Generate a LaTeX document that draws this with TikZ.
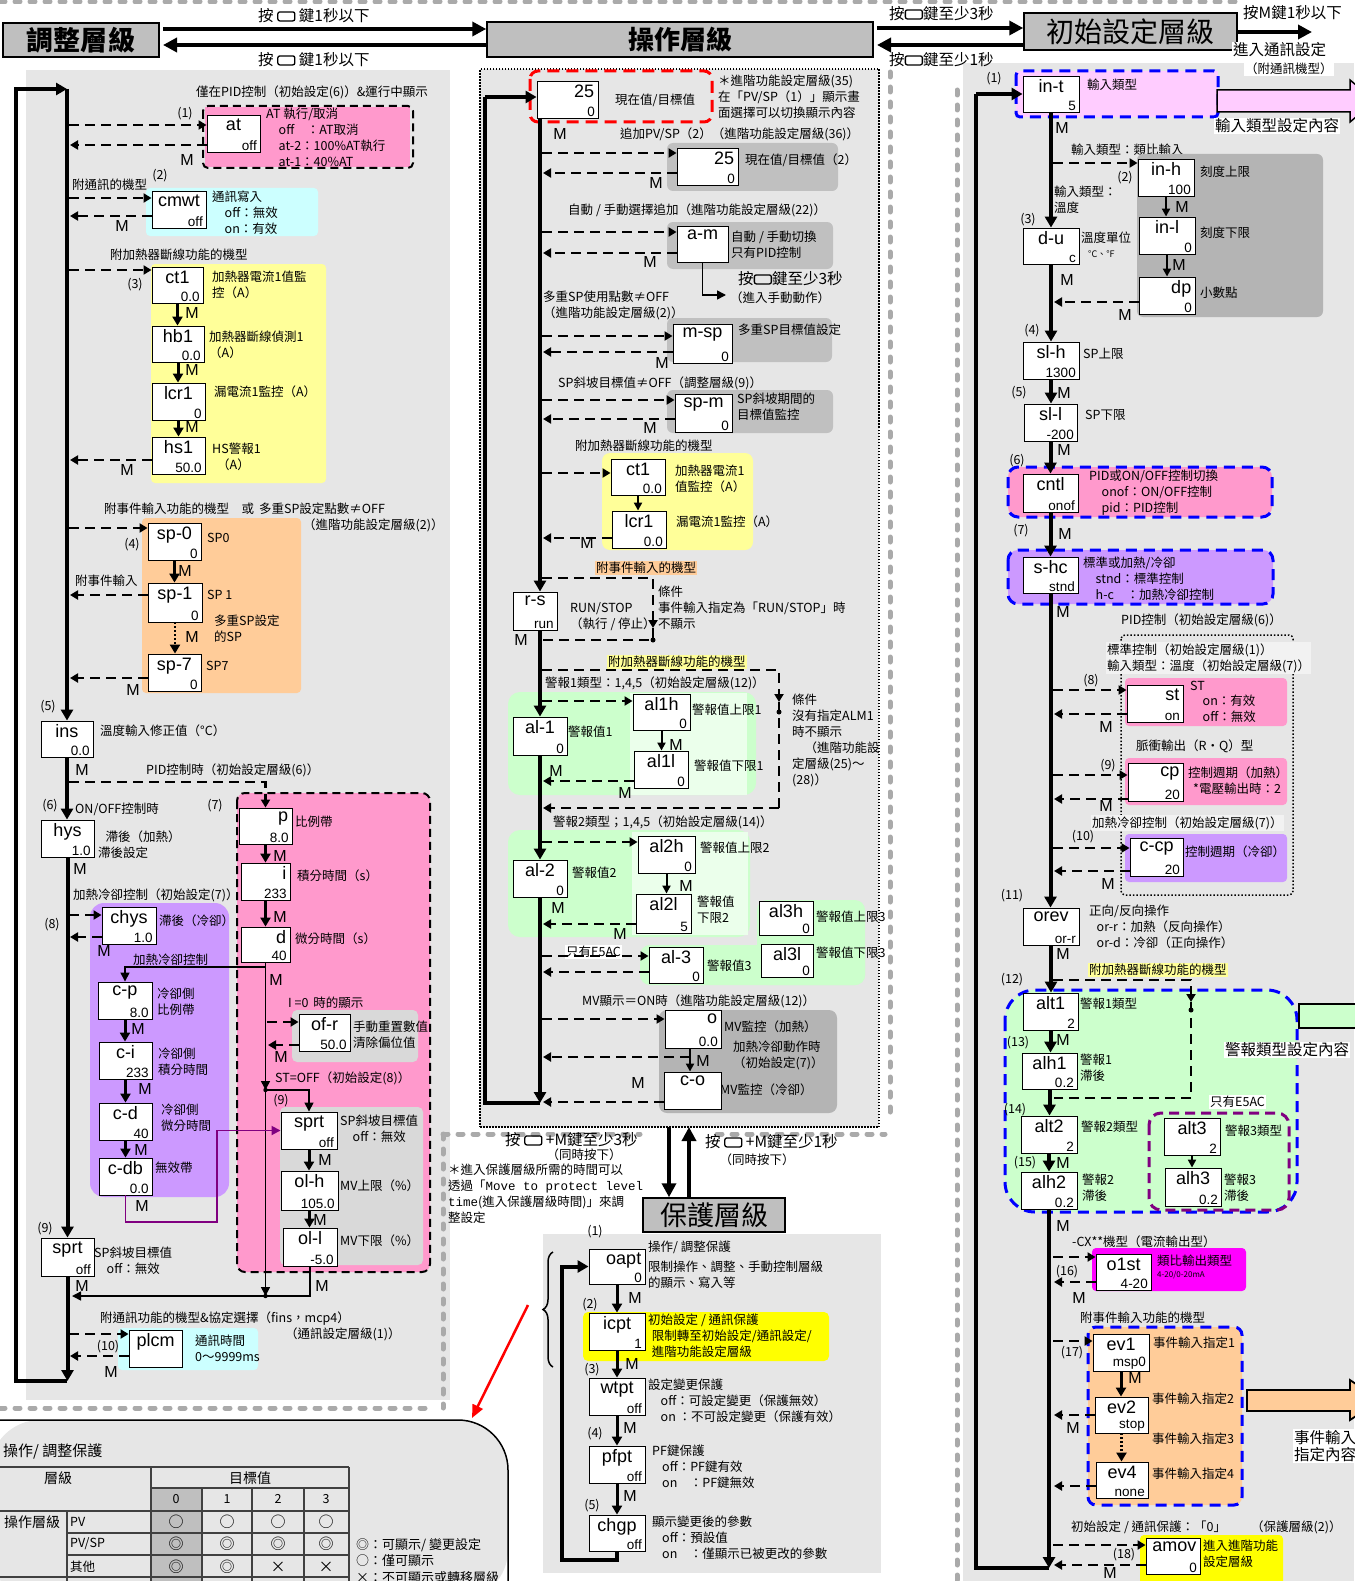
\documentclass[tikz,border=0pt]{standalone}
\usepackage{fontspec}
\setmainfont{Noto Sans CJK TC}
\newfontfamily\arial{Liberation Sans}
\newfontfamily\mono{Liberation Mono}
\usetikzlibrary{arrows.meta,fit,decorations.pathreplacing}

\definecolor{panel}{HTML}{E6E6E6}
\definecolor{hdgray}{HTML}{BFBFBF}
\definecolor{grpgray}{HTML}{C0C0C0}
\definecolor{grpdark}{HTML}{B4B4B4}
\definecolor{ltgray}{HTML}{D9D9D9}
\definecolor{pinkA}{HTML}{FF99CC}
\definecolor{pinkB}{HTML}{FFCCFF}
\definecolor{cyanA}{HTML}{CCFFFF}
\definecolor{yelA}{HTML}{FFFF99}
\definecolor{yelB}{HTML}{FFFF00}
\definecolor{orgA}{HTML}{FFCC99}
\definecolor{purA}{HTML}{CC99FF}
\definecolor{grnA}{HTML}{CCFFCC}
\definecolor{grnB}{HTML}{EBFFEB}
\definecolor{magA}{HTML}{FF00FF}
\definecolor{violet}{HTML}{800080}
\definecolor{sepgray}{HTML}{AAAAAA}

% key symbol
\newcommand\keyic{\tikz[baseline=-1pt]\draw[line width=1.3pt,rounded corners=2pt] (0pt,0pt) rectangle (17pt,9pt);}
% parameter box: name, x1, y1, x2, y2, label, value
\newcommand\pbx[7]{%
  \node [pbox, fit={(#2,#3) (#4,#5)}] (#1) {};
  \node [tagl, anchor=north] (#1n) at ([yshift=-4pt]#1.north) {#6};
  \node [val, anchor=south east] (#1v) at ([xshift=-2pt]#1.south east) {#7};}
\newcommand\pbxr[7]{%
  \node [pbox, fit={(#2,#3) (#4,#5)}] (#1) {};
  \node [tagl, anchor=north east] (#1n) at ([xshift=-4pt,yshift=-4pt]#1.north east) {#6};
  \node [val, anchor=south east] (#1v) at ([xshift=-2pt]#1.south east) {#7};}
\newcommand\tx[4][]{\node [txt,#1] (#2) at (#3) {#4};}
\newcommand\mm[2]{\node [mk] (#1) at (#2) {M};}
\newcommand\nb[3]{\node [num] (#1) at (#2) {#3};}
\newcommand\din[3]{\coordinate (#1) at (#2); \draw [darr] (#1) -- (#1 -| #3.west);}
\newcommand\dout[3]{\coordinate (#1) at (#2); \draw [darr] (#1 -| #3.west) -- (#1);}

\begin{document}
\begin{tikzpicture}[x=1pt,y=-1pt,
  pbox/.style={draw, fill=white, line width=0.9pt, inner sep=0pt},
  tagl/.style={font=\arial\fontsize{18}{18}\selectfont, inner sep=0pt},
  val/.style={font=\arial\fontsize{13.5}{13.5}\selectfont, inner sep=1.5pt},
  txt/.style={font=\fontsize{12.5}{16}\selectfont, inner sep=0pt, anchor=west, align=left},
  big/.style={font=\fontsize{15.5}{17}\selectfont},
  mk/.style={font=\arial\fontsize{16}{16}\selectfont, inner sep=0pt},
  num/.style={font=\fontsize{12.5}{12.5}\selectfont, inner sep=0pt},
  head/.style={draw, line width=1.5pt, fill=hdgray, inner sep=0pt},
  mainln/.style={line width=4pt},
  mainarr/.style={line width=4pt, -{Triangle[length=11pt,width=12pt]}},
  harr/.style={line width=3.5pt, -{Triangle[length=14pt,width=14pt]}},
  marr/.style={line width=3pt, -{Triangle[length=9pt,width=10pt]}},
  marrt/.style={line width=2pt, -{Triangle[length=8pt,width=8pt]}},
  tarr/.style={line width=1.5pt, -{Triangle[length=9pt,width=9pt]}},
  darr/.style={line width=2.4pt, dash pattern=on 10pt off 6pt, -{Triangle[length=8pt,width=9pt]}},
  dln/.style={line width=2.4pt, dash pattern=on 10pt off 6pt},
  dotarr/.style={line width=2.5pt, dash pattern=on 2pt off 2pt, -{Triangle[length=9pt,width=10pt]}},
  kdash/.style={line width=2pt, dash pattern=on 8pt off 5pt},
  bdash/.style={draw=blue, line width=3pt, dash pattern=on 11pt off 7pt},
  sepln/.style={line width=5pt, draw=sepgray, dash pattern=on 5pt off 10pt, line cap=round},
]
\useasboundingbox (0,0) rectangle (1354,1581);

% panels and separators
\fill [panel] (26,70) rectangle (450,1400);
\fill [panel] (963,63) rectangle (1354,1581);
\fill [panel] (543,1234) rectangle (881,1573);
\draw [sepln] (0,2) -- (1240,2);
\draw [sepln] (890,72) -- (890,1113);
\draw [sepln] (957,90) -- (957,1581);
\draw [sepln] (443,1134) -- (640,1134);
\draw [sepln] (717,1134) -- (885,1134);
\draw [sepln] (443,1134) -- (443,1408);
\draw [sepln] (0,1408) -- (425,1408);

% headers
\node [head, minimum width=156pt, minimum height=34pt, font=\fontsize{27}{27}\selectfont\bfseries] (adj) at (81,40) {調整層級};
\node [head, minimum width=386pt, minimum height=35pt, font=\fontsize{26}{26}\selectfont\bfseries] (opl) at (680,39.5) {操作層級};
\node [head, minimum width=213pt, minimum height=37pt, font=\fontsize{28}{28}\selectfont] (ini) at (1130.5,31.5) {初始設定層級};
\node [head, minimum width=142pt, minimum height=34pt, font=\fontsize{27}{27}\selectfont] (prot) at (714,1215) {保護層級};
\coordinate (h1) at (163,29); \draw [harr] (h1) -- (h1 -| opl.west);
\coordinate (h2) at (163,45); \draw [harr] (h2 -| opl.west) -- (h2);
\coordinate (h3) at (877,28); \draw [harr] (h3) -- (h3 -| ini.west);
\coordinate (h4) at (877,45); \draw [harr] (h4 -| ini.west) -- (h4);
\coordinate (h5) at (1312,32); \draw [harr] (h5 -| ini.east) -- (h5);
\tx[big]{th1}{258,16}{按 \keyic{} 鍵1秒以下}
\tx[big]{th2}{258,60}{按 \keyic{} 鍵1秒以下}
\tx[big]{th3}{889,14}{按\keyic{}鍵至少3秒}
\tx[big]{th4}{889,60}{按\keyic{}鍵至少1秒}
\tx[big]{th5}{1243,13}{按M鍵1秒以下}
\tx[big, fill=white, inner sep=1pt]{th6}{1232,50}{進入通訊設定}
\tx[fill=white, inner sep=1pt]{th7}{1244,69}{（附通訊機型）}

%%%%% adjustment level
\tx{tAtc}{196,92}{僅在PID控制（初始設定(6)）\&運行中顯示}
\fill [pinkA] (205,107) rectangle (410,167);
\draw [kdash, rounded corners=5pt] (203,106) rectangle (413,168);
\pbx{at}{207}{115}{260}{152}{at}{off}
\tx{tAt}{266,137.5}{AT 執行/取消\\\hspace*{1em}off\hspace{1em}：AT取消\\\hspace*{1em}at-2：100\%AT執行\\\hspace*{1em}at-1：40\%AT}
\nb{n1}{185,114}{(1)}
\din{a1}{69,125}{at} \dout{a2}{70,145}{at}
\mm{m1}{187,160}

\tx{tCm0}{72,185}{附通訊的機型} \nb{n2}{160,176}{(2)}
\fill [cyanA, rounded corners=4pt] (146,188) rectangle (318,236);
\pbx{cmwt}{152}{191}{206}{228}{cmwt}{off}
\tx{tCm}{212,213}{通訊寫入\\\hspace*{1em}off：無效\\\hspace*{1em}on：有效}
\din{c1}{69,198}{cmwt} \dout{c2}{70,216}{cmwt}
\mm{m2}{122,226}

\tx{tHb0}{110,255}{附加熱器斷線功能的機型}
\fill [yelA, rounded corners=4pt] (151,264) rectangle (326,483);
\pbx{ctA}{152}{267}{203}{303}{ct1}{0.0}
\pbx{hbA}{152}{326}{204}{362}{hb1}{0.0}
\pbx{lcrA}{152}{383}{205}{420}{lcr1}{0}
\pbx{hsA}{152}{437}{205}{474}{hs1}{50.0}
\din{k1}{69,270}{ctA}
\nb{n3}{135,285}{(3)}
\tx{tCtA}{212,285}{加熱器電流1值監\\控（A）}
\tx{tHbA}{209,345}{加熱器斷線偵測1\\（A）}
\tx{tLcA}{214,392}{漏電流1監控（A）}
\tx{tHsA}{212,457}{HS警報1\\\hspace*{0.4em}（A）}
\draw [marr] (ctA.south) -- (ctA.south |- hbA.north); \mm{m3}{192,313}
\draw [marr] (hbA.south) -- (hbA.south |- lcrA.north); \mm{m4}{192,370}
\draw [marr] (lcrA.south) -- (lcrA.south |- hsA.north); \mm{m5}{192,427}
\dout{k2}{70,460}{hsA} \mm{m6}{127,470}

\tx{tSp0}{104,509}{附事件輸入功能的機型\quad 或\, 多重SP設定點數≠OFF}
\tx{tSp1}{303,525}{（進階功能設定層級(2)）}
\fill [orgA, rounded corners=4pt] (142,518) rectangle (301,693);
\pbx{spA}{148}{523}{201}{560}{sp-0}{0}
\pbx{spB}{148}{583}{202}{622}{sp-1}{0}
\pbx{spC}{148}{654}{201}{691}{sp-7}{0}
\din{s1}{69,528}{spA} \nb{n4}{132,545}{(4)}
\tx{tSpA}{207,538}{SP0}
\tx{tSpB}{207,595}{SP 1}
\tx{tSpM}{214,629}{多重SP設定\\的SP}
\tx{tSpC}{206,666}{SP7}
\tx{tEvA}{75,581}{附事件輸入}
\draw [marr] (spA.south) -- (spA.south |- spB.north); \mm{m7}{185,571}
\draw [dotarr] (spB.south) -- (spB.south |- spC.north); \mm{m8}{192,637}
\dout{s2}{70,595}{spB}
\dout{s3}{70,678}{spC} \mm{m9}{133,690}

\nb{n5}{48,707}{(5)}
\pbx{ins}{41}{721}{93}{757}{ins}{0.0}
\tx{tIns}{100,731}{溫度輸入修正值（°C）}
\mm{m10}{82,770}
\tx{tPidL}{146,770}{PID控制時（初始設定層級(6)）}

\nb{n6}{50,806}{(6)} \tx{tOnf}{75,809}{ON/OFF控制時} \nb{n7}{215,806}{(7)}
\pbx{hys}{41}{820}{94}{857}{hys}{1.0}
\tx{tHys}{98,845}{\hspace*{0.6em}滯後（加熱）\\滯後設定}
\mm{m11}{80,869}
\tx{tHc}{73,895}{加熱冷卻控制（初始設定(7)）}

% heating / cooling group
\fill [purA, rounded corners=14pt] (90,903) rectangle (229,1197);
\pbx{chys}{102}{907}{156}{944}{chys}{1.0}
\tx{tChys}{159,921}{滯後（冷卻）}
\din{ch1}{69,915}{chys} \dout{ch2}{70,937}{chys}
\nb{n8}{52,925}{(8)} \mm{m12}{104,951}
\tx{tHc2}{133,960}{加熱冷卻控制}
\pbx{cp}{98}{982}{152}{1019}{c-p}{8.0}
\pbx{ci}{99}{1042}{152}{1079}{c-i}{233}
\pbx{cd}{99}{1103}{152}{1140}{c-d}{40}
\pbx{cdb}{99}{1158}{152}{1195}{c-db}{0.0}
\tx{tCp}{157,1002}{冷卻側\\比例帶}
\tx{tCi}{158,1062}{冷卻側\\積分時間}
\tx{tCd}{161,1118}{冷卻側\\微分時間}
\tx{tCdb}{155,1168}{無效帶}
\draw [marr] (cp.south) -- (cp.south |- ci.north); \mm{m13}{138,1029}
\draw [marr] (ci.south) -- (ci.south |- cd.north); \mm{m14}{145,1089}
\draw [marr] (cd.south) -- (cd.south |- cdb.north); \mm{m15}{141,1150}
\mm{m16}{142,1206}

% PID group
\fill [pinkA, rounded corners=8pt] (237,793) rectangle (430,1272);
\fill [ltgray, rounded corners=5pt] (292,1010) rectangle (418,1062);
\fill [ltgray, rounded corners=5pt] (280,1107) rectangle (423,1265);
\draw [kdash, rounded corners=8pt] (237,793) rectangle (430,1272);
\coordinate (p0) at (69,782);
\pbxr{pP}{239}{808}{292}{844}{p}{8.0}
\pbxr{pI}{241}{863}{290}{900}{i}{233}
\pbxr{pD}{241}{927}{290}{962}{d}{40}
\draw [darr] (p0) -| (pP.north);
\tx{tP}{295,822}{比例帶}
\tx{tI}{297,876}{積分時間（s）}
\tx{tD}{295,939}{微分時間（s）}
\draw [marr] (pP.south) -- (pP.south |- pI.north); \mm{m17}{280,856}
\draw [marr] (pI.south) -- (pI.south |- pD.north); \mm{m18}{280,917}
\coordinate (q0) at (265.5,1296);
\coordinate (q1) at (265.5,1090);
\coordinate (q2) at (265.5,967);
\coordinate (q3) at (72,1296);
\draw [tarr] (pD.south) -- (q1);
\draw [tarr] (q1) -- (q0);
\mm{m20}{276,980}
\tx{tI0}{288,1003}{I =0\, 時的顯示}
\pbx{ofr}{299}{1014}{350}{1051}{of-r}{50.0}
\tx{tOfr}{353,1035}{手動重置數值\\清除偏位值}
\din{o1}{267,1022}{ofr} \dout{o2}{268,1045}{ofr}
\mm{m19}{281,1057}
\tx{tStL}{275,1078}{ST=OFF（初始設定(8)）}
\nb{n9}{281,1101}{(9)}
\pbx{sprtR}{281}{1112}{337}{1149}{sprt}{off}
\pbx{olh}{281}{1171}{338}{1210}{ol-h}{105.0}
\pbx{oll}{283}{1228}{337}{1266}{ol-l}{-5.0}
\draw [tarr] (q1) -| (sprtR.north);
\fill (q1) circle (2.2pt);
\tx{tSprtR}{340,1129}{SP斜坡目標值\\\hspace*{1em}off：無效}
\tx{tOlh}{340,1186}{MV上限（\%）}
\tx{tOll}{340,1241}{MV下限（\%）}
\draw [marr] (sprtR.south) -- (sprtR.south |- olh.north); \mm{m21}{325,1160}
\draw [marr] (olh.south) -- (olh.south |- oll.north); \mm{m22}{320,1220}
\draw [tarr] (oll.south) |- (q3);
\fill (q0) circle (2.2pt);
\mm{m23}{322,1286}
\draw [tarr] (q2) -| (cp.north);
\coordinate (v0) at (217,1222);
\draw [violet, line width=1.8pt, -{Triangle[length=9pt,width=9pt]}] (cdb.south) |- (v0) |- (sprtR.west);

\nb{n9b}{45,1229}{(9)}
\pbx{sprtL}{41}{1238}{94}{1276}{sprt}{off}
\tx{tSprtL}{94,1261}{SP斜坡目標值\\\hspace*{1em}off：無效}
\mm{m24}{82,1286}
\tx{tPl}{100,1319}{附通訊功能的機型\&協定選擇（fins，mcp4）}
\tx{tPl2}{285,1334}{（通訊設定層級(1)）}
\fill [cyanA, rounded corners=4pt] (118,1328) rectangle (258,1370);
\pbx{plcm}{129}{1330}{182}{1367}{plcm}{}
\tx{tPlc}{195,1348}{通訊時間\\0～9999ms}
\din{pl1}{69,1334}{plcm} \dout{pl2}{70,1356}{plcm}
\nb{n10}{108,1347}{(10)} \mm{m25}{111,1372}

% adjustment main loop
\coordinate (LT) at (16,89);
\coordinate (LM) at (67,89);
\coordinate (LB) at (16,1381);
\coordinate (LE) at (67,1381);
\draw [mainarr] (LM) -- (LM |- ins.north);
\draw [mainarr] (ins.south) -- (ins.south |- hys.north);
\draw [mainarr] (hys.south) -- (hys.south |- sprtL.north);
\draw [mainarr] (sprtL.south) -- (sprtL.south |- LE);
\draw [mainarr] (LE) -- (LB) -- (LT) -- (LM);

% protect table
\fill [panel, rounded corners=50pt] (-10,1420) -- (508,1420) -- (508,1600) -- (-10,1600) -- cycle;
\draw [line width=1.5pt, rounded corners=50pt] (-10,1420) -- (508,1420) -- (508,1600);
\node [txt, font=\fontsize{15}{15}\selectfont, anchor=west] (tTb) at (3,1451) {操作/ 調整保護};
\fill [hdgray] (151,1488) rectangle (202,1581);
\draw [line width=1.2pt, black!75] (-5,1467) -- (349,1467) (151,1488) -- (349,1488)
  (-5,1511) -- (349,1511) (67,1533) -- (349,1533) (67,1555) -- (349,1555) (-5,1577) -- (349,1577)
  (67,1511) -- (67,1581) (151,1467) -- (151,1581) (349,1467) -- (349,1581)
  (202,1488) -- (202,1581) (252,1488) -- (252,1581) (304,1488) -- (304,1581);
\node [num, font=\fontsize{14}{14}\selectfont] (tbA) at (58,1478) {層級};
\node [num, font=\fontsize{14}{14}\selectfont] (tbB) at (250,1478) {目標值};
\node [num] (tb0) at (176,1499) {0};
\node [num] (tb1) at (227,1499) {1};
\node [num] (tb2) at (278,1499) {2};
\node [num] (tb3) at (326,1499) {3};
\node [num, font=\fontsize{14}{14}\selectfont, anchor=west] (tbR) at (4,1522) {操作層級};
\tx{tbPv}{70,1522}{PV}
\tx{tbPs}{70,1544}{PV/SP}
\tx{tbOt}{70,1567}{其他}
\foreach \cx/\nm in {176/a,227/b,278/c,326/d} {
  \node [num, font=\fontsize{15}{15}\selectfont] (tbo\nm) at (\cx,1522) {○};
  \node [num, font=\fontsize{15}{15}\selectfont] (tbs\nm) at (\cx,1544) {◎};
}
\node [num, font=\fontsize{15}{15}\selectfont] (tbta) at (176,1567) {◎};
\node [num, font=\fontsize{15}{15}\selectfont] (tbtb) at (227,1567) {◎};
\node [num, font=\fontsize{15}{15}\selectfont] (tbtc) at (278,1567) {×};
\node [num, font=\fontsize{15}{15}\selectfont] (tbtd) at (326,1567) {×};
\tx[font=\fontsize{13}{16.5}\selectfont]{tLg}{356,1561}{◎：可顯示/ 變更設定\\○：僅可顯示\\×：不可顯示或轉移層級}
\coordinate (r0) at (528,1305); \coordinate (r1) at (472,1418);
\draw [red, line width=2.5pt, -{Triangle[length=13pt,width=11pt]}] (r0) -- (r1);

%%%%% operation level
\node [fill=panel, draw, line width=1.2pt, dash pattern=on 1.5pt off 1.5pt, inner sep=0pt, fit={(480,69) (879,1127)}] (opf) {};
\draw [red, line width=3pt, dash pattern=on 12pt off 7pt, rounded corners=8pt] (530,71) rectangle (712,122);
\pbxr{pvA}{537}{81}{598}{118}{25}{0}
\tx{tPv}{615,100}{現在值/目標值}
\tx{tPvN}{718,97}{＊進階功能設定層級(35)\\在「PV/SP（1）」顯示畫\\面選擇可以切換顯示內容}
\coordinate (OT) at (485,97);
\coordinate (OM) at (540,118);
\coordinate (OB) at (485,1103);
\coordinate (OE) at (540,1103);
\mm{o1}{560,134}
\tx{tPvH}{620,134}{追加PV/SP（2）（進階功能設定層級(36)）}
\fill [grpgray, rounded corners=6pt] (667,143) rectangle (838,191);
\pbxr{pvB}{677}{148}{738}{185}{25}{0}
\tx{tPvB}{745,160}{現在值/目標值（2）}
\din{b1}{542,153}{pvB} \dout{b2}{543,173}{pvB} \mm{o2}{656,183}

\tx{tAmH}{568,210}{自動 / 手動選擇追加（進階功能設定層級(22)）}
\fill [grpgray, rounded corners=6pt] (667,222) rectangle (833,269);
\pbx{am}{677}{226}{728}{262}{a-m}{}
\tx{tAm}{731,245}{自動 / 手動切換\\只有PID控制}
\din{b3}{542,232}{am} \dout{b4}{543,253}{am} \mm{o3}{650,262}
\coordinate (b5) at (726,295);
\draw [tarr] (am.south) |- (b5);
\tx[big]{tAmK}{738,279}{按\keyic{}鍵至少3秒}
\tx{tAmK2}{730,298}{（進入手動動作）}

\tx{tMsH}{543,305}{多重SP使用點數≠OFF\\（進階功能設定層級(2)）}
\fill [grpgray, rounded corners=6pt] (667,318) rectangle (832,362);
\pbx{msp}{673}{324}{732}{363}{m-sp}{0}
\tx{tMs}{738,330}{多重SP目標值設定}
\din{b6}{542,336}{msp} \dout{b7}{543,352}{msp} \mm{o4}{662,363}

\tx{tSmH}{558,383}{SP斜坡目標值≠OFF（調整層級(9)）}
\fill [grpgray, rounded corners=6pt] (667,390) rectangle (833,433);
\pbx{spm}{675}{394}{732}{432}{sp-m}{0}
\tx{tSm}{737,407}{SP斜坡期間的\\目標值監控}
\din{b8}{542,400}{spm} \dout{b9}{543,419}{spm} \mm{o5}{650,428}

\tx{tCtB0}{575,446}{附加熱器斷線功能的機型}
\fill [yelA, rounded corners=8pt] (602,453) rectangle (753,550);
\pbx{ctB}{611}{459}{665}{495}{ct1}{0.0}
\pbx{lcrB}{612}{511}{666}{548}{lcr1}{0.0}
\tx{tCtB}{675,479}{加熱器電流1\\值監控（A）}
\tx{tLcB}{676,522}{漏電流1監控（A）}
\draw [marrt] (ctB.south) -- (ctB.south |- lcrB.north);
\din{b10}{542,473}{ctB} \dout{b11}{543,538}{lcrB} \mm{o6}{587,543}

\tx[fill=orgA, inner sep=1pt]{tRsH}{595,568}{附事件輸入的機型}
\coordinate (b12) at (542,578);
\coordinate (b14) at (653,628);
\coordinate (b13) at (653,640);
\coordinate (b13m) at (542,640);
\draw [darr] (b12) -| (b14);
\draw [dln] (b14) -- (b13) -- (b13m);
\fill (b13) circle (2.5pt);
\tx{tRsC}{658,608}{條件\\事件輸入指定為「RUN/STOP」時\\不顯示}
\pbx{rs}{513}{592}{557}{630}{r-s}{run}
\tx{tRs}{570,617}{RUN/STOP\\（執行 / 停止）}
\mm{o7}{521,640}

\tx[fill=yelA, inner sep=1pt]{tAlH}{607,662}{附加熱器斷線功能的機型}
\tx{tAl1H}{545,683}{警報1類型：1,4,5（初始設定層級(12)）}
\tx{tAl1C}{792,740}{條件\\沒有指定ALM1\\時不顯示\\\hspace*{1em}（進階功能設\\定層級(25)～\\(28)）}
\fill [grnA, rounded corners=12pt] (508,692) rectangle (756,795);
\fill [grnB] (630,693) rectangle (747,795);
\pbx{al1}{513}{717}{567}{755}{al-1}{0}
\pbx{al1h}{633}{694}{690}{730}{al1h}{0}
\pbx{al1l}{634}{751}{688}{788}{al1l}{0}
\tx{tAl1}{568,732}{警報值1}
\tx{tAl1h}{692,710}{警報值上限1}
\tx{tAl1l}{694,766}{警報值下限1}
\draw [marrt] (al1h.south) -- (al1h.south |- al1l.north); \mm{o8}{676,745}
\din{b19}{542,701}{al1h} \dout{b20}{543,781}{al1l}
\mm{o9}{556,771} \mm{o10}{625,793}
\coordinate (b15) at (542,670);
\coordinate (b16) at (779,702);
\coordinate (b18) at (779,712);
\coordinate (b17) at (779,808);
\coordinate (b17m) at (543,808);
\draw [darr] (b15) -| (b16);
\draw [dln] (b16) -- (b17);
\draw [darr] (b17) -- (b17m);
\fill (b18) circle (2.5pt);

\tx{tAl2H}{553,822}{警報2類型；1,4,5（初始設定層級(14)）}
\fill [grnA, rounded corners=12pt] (508,830) rectangle (750,937);
\fill [grnB] (632,832) rectangle (748,935);
\pbx{al2}{513}{860}{567}{897}{al-2}{0}
\pbx{al2h}{638}{836}{695}{873}{al2h}{0}
\pbx{al2l}{636}{894}{691}{933}{al2l}{5}
\tx{tAl2}{572,873}{警報值2}
\tx{tAl2h}{700,848}{警報值上限2}
\tx{tAl2l}{697,910}{警報值\\下限2}
\draw [marrt] (al2h.south) -- (al2h.south |- al2l.north); \mm{o11}{686,886}
\din{b21}{542,842}{al2h} \dout{b22}{543,924}{al2l}
\mm{o12}{558,908} \mm{o13}{620,934}

\fill [grnA, rounded corners=10pt] (640,945) rectangle (865,985);
\fill [grnA, rounded corners=10pt] (757,900) rectangle (865,985);
\pbx{al3h}{759}{901}{813}{935}{al3h}{0}
\pbx{al3l}{761}{944}{813}{977}{al3l}{0}
\pbx{al3}{649}{947}{703}{983}{al-3}{0}
\tx{tAl3h}{816,917}{警報值上限3}
\tx{tAl3l}{816,953}{警報值下限3}
\tx{tAl3}{707,966}{警報值3}
\tx[fill=white, inner sep=1pt]{tE5a}{565,952}{只有E5AC}
\din{b23}{542,956}{al3} \dout{b24}{543,972}{al3}

\tx{tMvH}{582,1001}{MV顯示＝ON時（進階功能設定層級(12)）}
\fill [grpdark, rounded corners=8pt] (659,1010) rectangle (837,1113);
\pbxr{mvo}{665}{1010}{721}{1048}{o}{0.0}
\pbx{mvc}{664}{1072}{721}{1109}{c-o}{}
\tx{tMv1}{724,1027}{MV監控（加熱）}
\tx{tMv2}{733,1055}{加熱冷卻動作時\\（初始設定(7)）}
\tx{tMv3}{720,1090}{MV監控（冷卻）}
\coordinate (b25) at (690,1057);
\coordinate (b26) at (543,1057);
\draw [marrt] (mvo.south -| b25) -- (mvc.north -| b25);
\draw [darr] (b25) -- (b26);
\din{b27}{542,1019}{mvo} \dout{b28}{543,1102}{mvc}
\mm{o14}{703,1061} \mm{o15}{638,1083}

% operation main loop
\draw [mainarr] (OM) -- (OM |- rs.north);
\draw [mainarr] (OM |- rs.south) -- (OM |- al1.north);
\draw [mainarr] (OM |- al1.south) -- (OM |- al2.north);
\draw [mainarr] (OM |- al2.south) -- (OE);
\draw [mainln] (OE) -- (OB) -- (OT);
\draw [mainarr] (OT) -- (OT -| pvA.west);

% to protect level
\coordinate (pd) at (669,1127);
\coordinate (pu) at (689,1127);
\draw [harr] (pd) -- (pd |- prot.north);
\draw [harr] (pu |- prot.north) -- (pu);
\tx[big]{tPk1}{505,1140}{按 \keyic{} +M鍵至少3秒}
\node [txt, anchor=center] (tPk1b) at (584,1155) {（同時按下）};
\tx[big]{tPk2}{705,1142}{按 \keyic{} +M鍵至少1秒}
\node [txt, anchor=center] (tPk2b) at (757,1160) {（同時按下）};
\tx{tNote}{448,1194}{＊進入保護層級所需的時間可以\\透過「{\mono Move to protect level}\\{\mono time}(進入保護層級時間)」來調\\整設定}

%%%%% protect level
\fill [yelB, rounded corners=5pt] (583,1312) rectangle (829,1361);
\pbxr{oapt}{589}{1249}{645}{1284}{oapt}{0}
\pbx{icpt}{589}{1313}{645}{1350}{icpt}{1}
\pbx{wtpt}{589}{1378}{645}{1415}{wtpt}{off}
\pbx{pfpt}{589}{1446}{645}{1483}{pfpt}{off}
\pbx{chgp}{589}{1515}{645}{1551}{chgp}{off}
\draw [marr] (oapt.south) -- (oapt.south |- icpt.north);
\draw [marr] (icpt.south) -- (icpt.south |- wtpt.north);
\draw [marr] (wtpt.south) -- (wtpt.south |- pfpt.north);
\draw [marr] (pfpt.south) -- (pfpt.south |- chgp.north);
\coordinate (pl0) at (562,1560);
\draw [mainarr] (chgp.south) |- (pl0) |- (oapt.west);
\mm{pm1}{635,1298} \mm{pm2}{632,1364} \mm{pm3}{630,1428} \mm{pm4}{630,1496}
\nb{pn1}{595,1232}{(1)} \nb{pn2}{590,1305}{(2)} \nb{pn3}{592,1370}{(3)} \nb{pn4}{595,1434}{(4)} \nb{pn5}{592,1506}{(5)}
\tx{tOa0}{648,1247}{操作/ 調整保護}
\tx{tOa}{648,1275}{限制操作、調整、手動控制層級\\的顯示、寫入等}
\tx{tIc}{648,1336}{初始設定 / 通訊保護\\\hspace*{0.3em}限制轉至初始設定/通訊設定/\\\hspace*{0.3em}進階功能設定層級}
\tx{tWt}{648,1401}{設定變更保護\\\hspace*{1em}off：可設定變更（保護無效）\\\hspace*{1em}on ：不可設定變更（保護有效）}
\tx{tPf}{652,1467}{PF鍵保護\\\hspace*{0.8em}off：PF鍵有效\\\hspace*{0.8em}on　：PF鍵無效}
\tx{tCh}{652,1538}{顯示變更後的參數\\\hspace*{0.8em}off：預設值\\\hspace*{0.8em}on　：僅顯示已被更改的參數}
\coordinate (br0) at (553,1367); \coordinate (br1) at (553,1252);
\draw [line width=1.5pt, decorate, decoration={brace, amplitude=10pt}] (br0) -- (br1);

%%%%% initial setting level
\fill [pinkB] (1016,71) rectangle (1218,117);
\draw [bdash, rounded corners=4pt] (1016,71) rectangle (1218,117);
\pbx{int}{1023}{76}{1079}{112}{in-t}{5}
\tx{tInt}{1087,85}{輸入類型}
\nb{r1}{994,79}{(1)}
\draw [fill=pinkB, line width=1.5pt] (1217,90) -- (1350,90) -- (1350,80) -- (1375,101) -- (1350,122) -- (1350,112) -- (1217,112) -- cycle;
\tx[big, fill=white, inner sep=1pt]{tIntC}{1214,126}{輸入類型設定內容}
\mm{r2}{1062,128}
\tx{tInh0}{1071,150}{輸入類型：類比輸入}
\fill [grpdark, rounded corners=6pt] (1137,154) rectangle (1323,317);
\pbx{inh}{1138}{159}{1194}{196}{in-h}{100}
\pbx{inl}{1139}{217}{1195}{254}{in-l}{0}
\pbxr{dp}{1139}{277}{1195}{314}{dp}{0}
\tx{tInh}{1200,172}{刻度上限}
\tx{tInl}{1200,233}{刻度下限}
\tx{tDp}{1200,293}{小數點}
\nb{r3}{1125,178}{(2)}
\din{i1}{1053,163}{inh}
\draw [marrt] (inh.south) -- (inh.south |- inl.north); \mm{r4}{1182,207}
\draw [marrt] (inl.south) -- (inl.south |- dp.north); \mm{r5}{1179,265}
\dout{i2}{1054,302}{dp} \mm{r6}{1125,315}
\tx{tDuT}{1054,200}{輸入類型：\\溫度}
\nb{r7}{1028,220}{(3)}
\pbx{du}{1023}{228}{1079}{264}{d-u}{c}
\tx{tDu}{1081,238}{溫度單位}
\tx[font=\fontsize{9}{9}\selectfont]{tDu2}{1088,254}{°C、°F}
\mm{r8}{1067,280}
\nb{r9}{1032,331}{(4)}
\pbx{slh}{1023}{342}{1079}{379}{sl-h}{1300}
\tx{tSlh}{1083,354}{SP上限}
\nb{r10}{1019,393}{(5)} \mm{r11}{1064,393}
\pbx{sll}{1024}{404}{1077}{441}{sl-l}{-200}
\tx{tSll}{1085,415}{SP下限}
\mm{r12}{1064,450} \nb{r13}{1017,461}{(6)}
\fill [pinkA, rounded corners=10pt] (1008,467) rectangle (1272,517);
\draw [bdash, rounded corners=10pt] (1008,467) rectangle (1272,517);
\pbx{cntl}{1023}{474}{1078}{512}{cntl}{onof}
\tx{tCntl}{1089,493}{PID或ON/OFF控制切換\\\hspace*{1em}onof：ON/OFF控制\\\hspace*{1em}pid：PID控制}
\nb{r14}{1021,531}{(7)} \mm{r15}{1065,534}
\fill [purA, rounded corners=10pt] (1008,550) rectangle (1273,604);
\draw [bdash, rounded corners=10pt] (1008,550) rectangle (1273,604);
\pbx{shc}{1023}{557}{1078}{593}{s-hc}{stnd}
\tx{tShc}{1083,579}{標準或加熱/冷卻\\\hspace*{1em}stnd：標準控制\\\hspace*{1em}h-c\hspace{1em}：加熱冷卻控制}
\mm{r16}{1063,612}
\tx{tPidR}{1121,620}{PID控制（初始設定層級(6)）}
\draw [line width=1.5pt, dash pattern=on 1.5pt off 2pt, rounded corners=4pt] (1121,635) rectangle (1293,895);
\tx[fill=panel!50!white, inner sep=1pt]{tStd}{1106,658}{標準控制（初始設定層級(1)）\\輸入類型：溫度（初始設定層級(7)）}
\fill [pinkA, rounded corners=4pt] (1125,678) rectangle (1287,726);
\pbxr{st}{1127}{685}{1183}{722}{st}{on}
\tx[font=\fontsize{12.5}{15.5}\selectfont]{tStR}{1190,701.5}{ST\\\hspace*{1em}on：有效\\\hspace*{1em}off：無效}
\nb{r17}{1091,681}{(8)}
\din{i3}{1053,690}{st} \dout{i4}{1054,714}{st} \mm{r18}{1106,727}
\tx{tPulse}{1136,746}{脈衝輸出（R・Q）型}
\fill [pinkA, rounded corners=4pt] (1125,758) rectangle (1287,805);
\pbxr{cpR}{1128}{763}{1183}{801}{cp}{20}
\tx{tCpR}{1188,781}{控制週期（加熱）\\\hspace*{0.4em}*電壓輸出時：2}
\nb{r19}{1108,766}{(9)}
\din{i5}{1053,775}{cpR} \dout{i6}{1054,799}{cpR} \mm{r20}{1106,806}
\tx[fill=panel!50!white, inner sep=1pt]{tHcR}{1091,823}{加熱冷卻控制（初始設定層級(7)）}
\fill [purA, rounded corners=4pt] (1125,834) rectangle (1287,882);
\pbx{ccp}{1130}{838}{1183}{876}{c-cp}{20}
\tx{tCcp}{1185,852}{控制週期（冷卻）}
\nb{r21}{1083,837}{(10)}
\din{i7}{1053,848}{ccp} \dout{i8}{1054,871}{ccp} \mm{r22}{1108,884}
\nb{r23}{1012,896}{(11)}
\pbx{orev}{1023}{908}{1079}{945}{orev}{or-r}
\tx{tOrev}{1089,927}{正向/反向操作\\\hspace*{0.6em}or-r：加熱（反向操作）\\\hspace*{0.6em}or-d：冷卻（正向操作）}
\mm{r24}{1063,954}
\tx[fill=yelA, inner sep=1pt]{tAlR}{1088,970}{附加熱器斷線功能的機型}
\nb{r25}{1012,980}{(12)}
\fill [grnA, rounded corners=30pt] (1005,990) rectangle (1297,1212);
\draw [bdash, rounded corners=30pt] (1005,990) rectangle (1297,1212);
\coordinate (i9) at (1053,980);
\coordinate (i10) at (1191,1002);
\coordinate (i11) at (1191,1098);
\coordinate (i12) at (1054,1098);
\draw [darr] (i9) -| (i10);
\draw [dln] (i10) -- (i11) -- (i12);
\fill (1191,1010) circle (2.5pt);
\pbx{alt1}{1023}{993}{1078}{1030}{alt1}{2}
\pbx{alh1}{1022}{1053}{1077}{1089}{alh1}{0.2}
\pbx{alt2}{1021}{1116}{1077}{1153}{alt2}{2}
\pbx{alh2}{1021}{1172}{1077}{1209}{alh2}{0.2}
\tx{tAlt1}{1080,1004}{警報1類型}
\tx{tAlh1}{1080,1068}{警報1\\滯後}
\tx{tAlt2}{1081,1127}{警報2類型}
\tx{tAlh2}{1082,1188}{警報2\\滯後}
\nb{r26}{1018,1043}{(13)} \mm{r27}{1063,1040}
\nb{r28}{1015,1110}{(14)}
\nb{r29}{1025,1163}{(15)} \mm{r30}{1063,1163}
\draw [fill=grnA, line width=1.8pt] (1299,1004) rectangle (1365,1028);
\tx[big, fill=white, inner sep=1pt]{tAlC}{1224,1050}{警報類型設定內容}
\tx[fill=white, inner sep=1pt]{tE5b}{1209,1102}{只有E5AC}
\draw [violet, line width=3pt, dash pattern=on 10pt off 6pt, rounded corners=12pt] (1149,1113) rectangle (1289,1210);
\pbx{alt3}{1164}{1118}{1220}{1155}{alt3}{2}
\pbx{alh3}{1165}{1168}{1221}{1206}{alh3}{0.2}
\draw [marrt] (alt3.south) -- (alt3.south |- alh3.north);
\tx{tAlt3}{1225,1131}{警報3類型}
\tx{tAlh3}{1224,1188}{警報3\\滯後}
\mm{r31}{1063,1226}
\tx{tCx}{1072,1242}{-CX**機型（電流輸出型）}
\fill [magA, rounded corners=4pt] (1092,1248) rectangle (1246,1291);
\pbx{o1st}{1096}{1254}{1151}{1290}{o1st}{4-20}
\tx{tO1}{1157,1261}{類比輸出類型}
\tx[font=\fontsize{8}{8}\selectfont]{tO1b}{1157,1275}{4-20/0-20mA}
\nb{r32}{1067,1272}{(16)}
\din{i13}{1053,1257}{o1st} \dout{i14}{1054,1282}{o1st} \mm{r33}{1079,1298}
\tx{tEvH}{1080,1318}{附事件輸入功能的機型}
\fill [orgA, rounded corners=8pt] (1088,1327) rectangle (1242,1505);
\draw [bdash, rounded corners=8pt] (1088,1327) rectangle (1242,1505);
\pbx{ev1}{1093}{1334}{1149}{1371}{ev1}{msp0}
\pbx{ev2}{1095}{1397}{1148}{1433}{ev2}{stop}
\pbx{ev4}{1096}{1462}{1148}{1498}{ev4}{none}
\tx{tEv1}{1153,1343}{事件輸入指定1}
\tx{tEv2}{1152,1399}{事件輸入指定2}
\tx{tEv3}{1152,1439}{事件輸入指定3}
\tx{tEv4}{1152,1474}{事件輸入指定4}
\nb{r34}{1072,1353}{(17)}
\din{i15}{1053,1341}{ev1}
\draw [marr] (ev1.south) -- (ev1.south |- ev2.north); \mm{r35}{1135,1378}
\draw [dotarr] (ev2.south) -- (ev2.south |- ev4.north);
\dout{i16}{1054,1415}{ev2} \mm{r36}{1073,1428}
\dout{i17}{1054,1486}{ev4}
\draw [fill=orgA, line width=1.8pt] (1247,1390) -- (1350,1390) -- (1350,1380) -- (1380,1400) -- (1350,1420) -- (1350,1411) -- (1247,1411) -- cycle;
\tx[big, fill=white, inner sep=1pt]{tEvC}{1293,1446}{事件輸入\\指定內容}
\tx{tAmvH}{1071,1527}{初始設定 / 通訊保護：「0」\qquad（保護層級(2)）}
\fill [yelB, rounded corners=4pt] (1140,1535) rectangle (1283,1590);
\pbxr{amov}{1146}{1538}{1200}{1574}{amov}{0}
\tx{tAmv}{1203,1554}{進入進階功能\\設定層級}
\nb{r37}{1124,1555}{(18)}
\din{i18}{1053,1545}{amov} \dout{i19}{1054,1565}{amov} \mm{r38}{1110,1573}

% initial setting main loop
\coordinate (RT) at (976,94);
\coordinate (RB) at (976,1568);
\coordinate (RE) at (1049,1568);
\draw [mainarr] (int.south) -- (int.south |- du.north);
\draw [mainarr] (du.south) -- (du.south |- slh.north);
\draw [mainarr] (slh.south) -- (slh.south |- sll.north);
\draw [mainarr] (sll.south) -- (sll.south |- cntl.north);
\draw [mainarr] (cntl.south) -- (cntl.south |- shc.north);
\draw [mainarr] (shc.south) -- (shc.south |- orev.north);
\draw [mainarr] (orev.south) -- (orev.south |- alt1.north);
\draw [mainarr] (alt1.south) -- (alt1.south |- alh1.north);
\draw [mainarr] (alh1.south) -- (alh1.south |- alt2.north);
\draw [mainarr] (alt2.south) -- (alt2.south |- alh2.north);
\draw [mainarr] (alh2.south) -- (RE);
\draw [mainln] (RE) -- (RB) -- (RT);
\draw [mainarr] (RT) -- (RT -| int.west);
\end{tikzpicture}
\end{document}
